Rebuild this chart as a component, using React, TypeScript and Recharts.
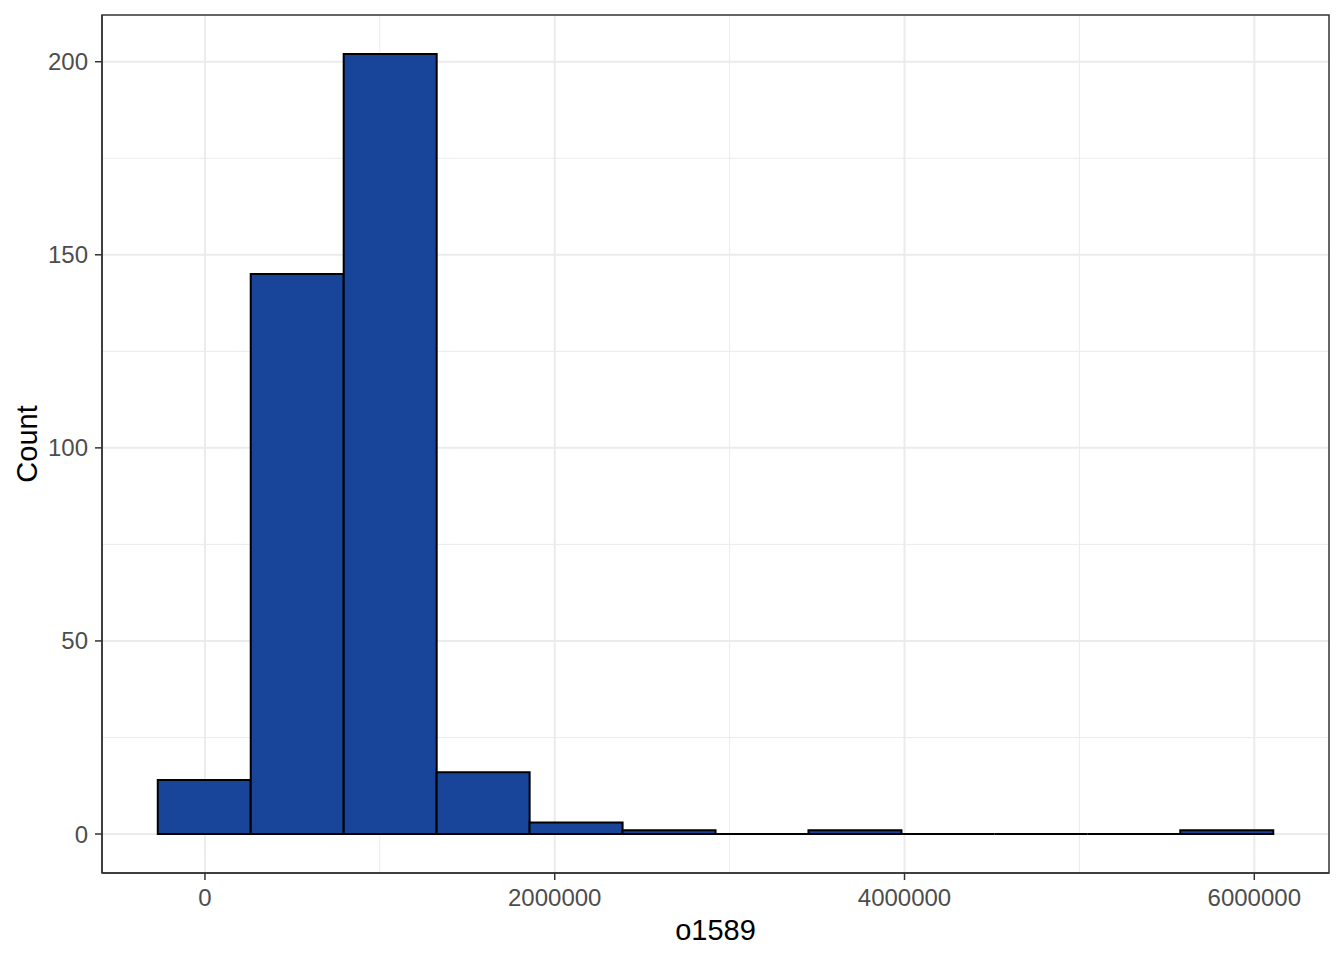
import React from 'react';
import { ComposedChart, Bar, XAxis, YAxis, CartesianGrid, ReferenceArea } from 'recharts';

const binCenters = [-4000, 527500, 1059000, 1590500, 2122000, 2653500, 3185000, 3716500, 4248000, 4779500, 5311000, 5842500];
const counts = [14, 145, 202, 16, 3, 1, 0, 1, 0, 0, 0, 1];
const xTicks = [0, 2000000, 4000000, 6000000];
const xMinor = [1000000, 3000000, 5000000];
const yTicks = [0, 50, 100, 150, 200];
const yMinor = [25, 75, 125, 175];

const data = binCenters.map((x, i) => ({ x, count: counts[i] }));

const FONT = '"Liberation Sans", Arial, sans-serif';
const X_DOMAIN: [number, number] = [-588650, 6427150];
const Y_DOMAIN: [number, number] = [-10.1, 212.1];

const HistBar = (props: any) => {
  const { x, y, width, height } = props;
  const h = Math.max(0, height || 0);
  return (
    <path
      d={`M${x},${y}h${width}v${h}h${-width}Z`}
      fill="#18449A"
      stroke="#000000"
      strokeWidth={2}
    />
  );
};

export default function App() {
  return (
    <div style={{ position: 'absolute', left: 0, top: 0, background: '#fff' }}>
      <ComposedChart
        width={1344}
        height={960}
        data={data}
        margin={{ top: 15, right: 15, bottom: 0, left: 0 }}
        barCategoryGap={0}
        barGap={0}
      >
        <CartesianGrid
          horizontalValues={yMinor}
          verticalValues={xMinor}
          stroke="#EBEBEB"
          strokeWidth={1}
          fill="none"
        />
        <CartesianGrid
          horizontalValues={yTicks}
          verticalValues={xTicks}
          stroke="#EBEBEB"
          strokeWidth={2}
          fill="none"
        />
        <XAxis
          dataKey="x"
          type="number"
          domain={X_DOMAIN}
          allowDataOverflow
          ticks={xTicks}
          height={87}
          tickSize={7}
          tickMargin={9}
          axisLine={{ stroke: '#333333', strokeWidth: 1.5 }}
          tickLine={{ stroke: '#333333', strokeWidth: 1.5 }}
          tick={{ fill: '#4D4D4D', fontSize: 24, fontFamily: FONT }}
          label={{
            content: (p: any) => {
              const vb = p.viewBox || {};
              return (
                <text
                  x={vb.x + vb.width / 2}
                  y={940}
                  textAnchor="middle"
                  fontSize={29}
                  fontFamily={FONT}
                  fill="#000000"
                >
                  o1589
                </text>
              );
            },
          }}
        />
        <YAxis
          type="number"
          domain={Y_DOMAIN}
          allowDataOverflow
          ticks={yTicks}
          width={102}
          tickSize={7}
          tickMargin={7}
          axisLine={{ stroke: '#333333', strokeWidth: 1.5 }}
          tickLine={{ stroke: '#333333', strokeWidth: 1.5 }}
          tick={{ fill: '#4D4D4D', fontSize: 24, fontFamily: FONT }}
          label={{
            content: (p: any) => {
              const vb = p.viewBox || {};
              const cx = 37;
              const cy = vb.y + vb.height / 2;
              return (
                <text
                  x={cx}
                  y={cy}
                  textAnchor="middle"
                  transform={`rotate(-90 ${cx} ${cy})`}
                  fontSize={29}
                  fontFamily={FONT}
                  fill="#000000"
                >
                  Count
                </text>
              );
            },
          }}
        />
        <Bar dataKey="count" shape={HistBar} isAnimationActive={false} />
        <ReferenceArea
          x1={X_DOMAIN[0]}
          x2={X_DOMAIN[1]}
          y1={Y_DOMAIN[0]}
          y2={Y_DOMAIN[1]}
          fill="none"
          fillOpacity={0}
          stroke="#333333"
          strokeWidth={1.5}
          ifOverflow="visible"
        />
      </ComposedChart>
    </div>
  );
}
